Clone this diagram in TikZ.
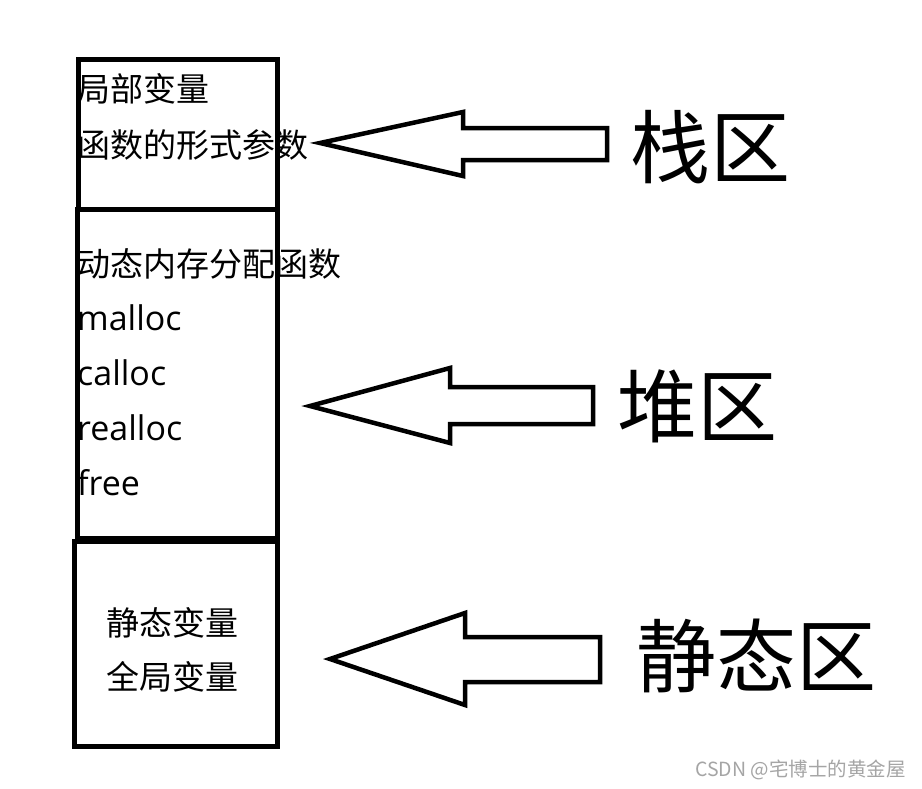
\documentclass[tikz,border=0pt]{standalone}
\usepackage{fontspec}
\setmainfont{Open Sans}
\newfontfamily\cjk{Noto Sans CJK SC}
\definecolor{wm}{RGB}{165,165,165}
\begin{document}
\begin{tikzpicture}[x=1pt,y=-1pt,
  memblock/.style={draw,line width=5pt,anchor=north west,inner sep=0pt,outer sep=0pt},
  blockarrow/.style={draw,line width=4.5pt,line join=miter},
  txt/.style={inner sep=0pt,anchor=base west,font=\fontsize{34}{34}\selectfont},
  cjktxt/.style={inner sep=0pt,anchor=base west,font=\cjk\fontsize{33}{33}\selectfont},
  big/.style={inner sep=0pt,anchor=base west,font=\cjk\fontsize{80}{80}\selectfont}]
\useasboundingbox (0,0) rectangle (922,788);
\fill[white] (0,0) rectangle (922,788);

% memory boxes
\node[memblock,minimum width=199.5pt,minimum height=150pt] (stackbox) at (78,59.5) {};
\node[memblock,minimum width=200pt,minimum height=328.5pt] (heapbox) at (77.5,209.5) {};
\node[memblock,minimum width=202.5pt,minimum height=205.5pt] (staticbox) at (74.5,541) {};

% texts in boxes
\node[cjktxt] (t1) at (77,101.5) {局部变量};
\node[cjktxt] (t2) at (77,157) {函数的形式参数};
\node[cjktxt] (t3) at (77,276) {动态内存分配函数};
\node[txt] (t4) at (77,330) {malloc};
\node[txt] (t5) at (77,385) {calloc};
\node[txt] (t6) at (77,440) {realloc};
\node[txt] (t7) at (77,495) {free};
\node[cjktxt] (t8) at (106,635) {静态变量};
\node[cjktxt] (t9) at (106,689) {全局变量};

% block arrows
\draw[blockarrow] (320,143) -- (463,112) -- (463,128) -- (607,128) -- (607,160) -- (463,160) -- (463,176) -- cycle;
\draw[blockarrow] (310,406) -- (450,368) -- (450,387) -- (593,387) -- (593,424) -- (450,424) -- (450,443) -- cycle;
\draw[blockarrow] (330,659) -- (465,613) -- (465,637) -- (600,637) -- (600,682) -- (465,682) -- (465,705) -- cycle;

% region labels
\node[big] (stacklbl) at (630,177) {栈区};
\node[big] (heaplbl) at (617,436) {堆区};
\node[big] (staticlbl) at (636,686) {静态区};

% watermark
\node[inner sep=0pt,anchor=base east,text=wm,font=\cjk\fontsize{19.5}{19.5}\selectfont] (wmark) at (906,776) {CSDN @宅博士的黄金屋};
\end{tikzpicture}
\end{document}
